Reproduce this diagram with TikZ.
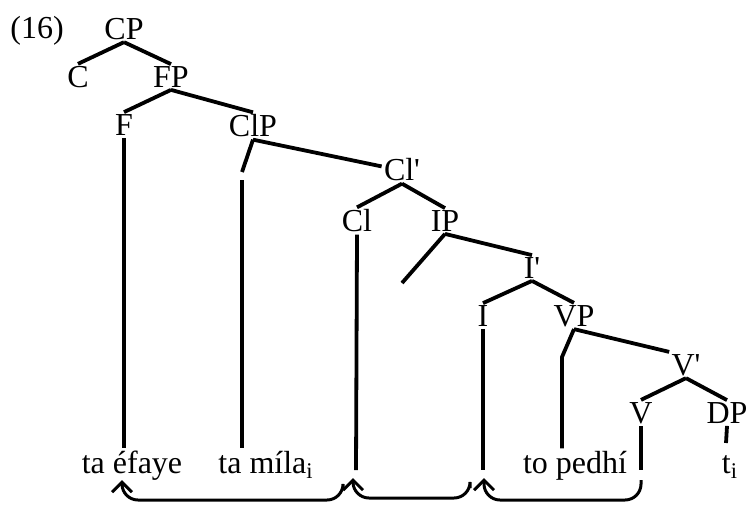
\documentclass[tikz,border=0pt]{standalone}
\usepackage{fontspec}
\setmainfont{Liberation Serif}
\usetikzlibrary{arrows.meta}

\begin{document}
\begin{tikzpicture}[x=0.5pt,y=-0.5pt,
		cat/.style={font=\fontsize{16}{19}\selectfont, inner sep=1pt},
		word/.style={cat, anchor=base},
		branch/.style={line width=1.9pt},
		move/.style={line width=1.5pt, rounded corners=8pt, -{Straight Barb[length=5pt,width=10pt,line width=1.5pt]}}]
			%%%%% START %%%%%
			\useasboundingbox (0,0) rectangle (747,504);
			
			\node[cat] (ex) at (37,31) {(16)};
			
			\node[cat] (CP) at (124,29) {CP};
			\node[cat] (C) at (78,77) {C};
			\node[cat] (FP) at (171,77) {FP};
			\node[cat] (F) at (124,125) {F};
			\node[cat] (ClP) at (253,126) {ClP};
			\node[cat] (Clbar) at (402,170) {Cl\textquotesingle};
			\node[cat] (Cl) at (357,221) {Cl};
			\node[cat] (IP) at (445,221) {IP};
			\node[cat] (Ibar) at (532,268) {I\textquotesingle};
			\node[cat] (I) at (483,316) {I};
			\node[cat] (VP) at (574,316) {VP};
			\node[cat] (Vbar) at (686,365) {V\textquotesingle};
			\node[cat] (V) at (641,413) {V};
			\node[cat] (DP) at (727,413) {DP};
			
			\node[word] (efaye) at (132,473) {ta éfaye};
			\node[word] (mila) at (266,473) {ta míla\textsubscript{i}};
			\node[word] (pedhi) at (575,473) {to pedhí};
			\node[word] (ti) at (730,473) {t\textsubscript{i}};
			
			\coordinate (clpkink) at (242,172);
			\coordinate (milatop) at (242,180);
			\coordinate (ipspec) at (402,283);
			\coordinate (vpkink) at (562,357);
			\coordinate (clfoot) at (356,470);
			\coordinate (ifoot) at (483,470);
			\coordinate (vfoot) at (641,470);
			\coordinate (titop) at (726,443);
			
			% branches
			\draw[branch] (CP.south) -- (C.north);
			\draw[branch] (CP.south) -- (FP.north);
			\draw[branch] (FP.south) -- (F.north);
			\draw[branch] (FP.south) -- (ClP.north);
			\draw[branch] (ClP.south) -- (clpkink);
			\draw[branch] (ClP.south) -- (Clbar.170);
			\draw[branch] (Clbar.south) -- (Cl.north);
			\draw[branch] (Clbar.south) -- (IP.north);
			\draw[branch] (IP.south) -- (ipspec);
			\draw[branch] (IP.south) -- (Ibar.north);
			\draw[branch] (Ibar.south) -- (I.north);
			\draw[branch] (Ibar.south) -- (VP.north);
			\draw[branch] (VP.south) -- (vpkink) -- (vpkink |- pedhi.north);
			\draw[branch] (VP.south) -- (Vbar.north west);
			\draw[branch] (Vbar.south) -- (V.north);
			\draw[branch] (Vbar.south) -- (DP.north);
			
			% terminals
			\draw[branch] (F.south) -- (F.south |- efaye.north);
			\draw[branch] (milatop) -- (milatop |- mila.north);
			\draw[branch] (Cl.south) -- (clfoot);
			\draw[branch] (I.south) -- (ifoot);
			\draw[branch] (V.south) -- (vfoot);
			\draw[branch] (DP.south) -- (titop);
			
			% movement
			\coordinate (clout) at (343,488);
			\coordinate (iout) at (470,488);
			\coordinate (vout) at (641,480);
			\coordinate (efayetip) at (122,480);
			\coordinate (cltip) at (353,478);
			\coordinate (itip) at (484,478);
			\draw[move] (clout) -- ++(0,12) -| (efayetip);
			\draw[move] (iout) -- ++(0,10) -| (cltip);
			\draw[move] (vout) -- ++(0,20) -| (itip);
			
			%%%%% END %%%%%
		\end{tikzpicture}
\end{document}
